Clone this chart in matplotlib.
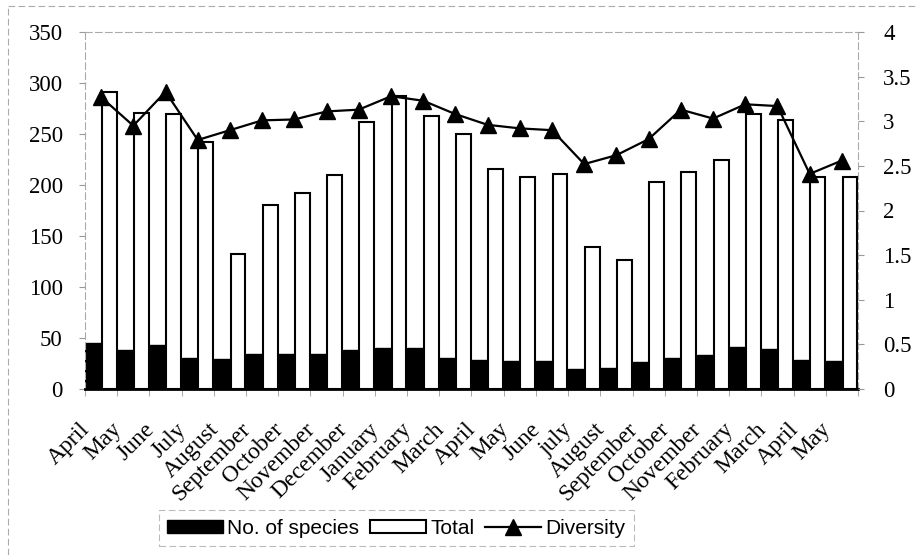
import numpy as np
import matplotlib
matplotlib.use('Agg')
import matplotlib.pyplot as plt
from matplotlib.transforms import ScaledTranslation, blended_transform_factory
from matplotlib.lines import Line2D
from matplotlib.patches import Patch

plt.rcParams['font.family'] = ['Liberation Serif', 'DejaVu Serif']

months = ['April', 'May', 'June', 'July', 'August', 'September', 'October',
          'November', 'December', 'January', 'February', 'March', 'April',
          'May', 'June', 'july', 'August', 'September', 'October', 'November',
          'February', 'March', 'April', 'May']
species = [45, 38, 43, 30, 29, 34, 34, 34, 38, 40, 40, 30,
           28, 27, 27, 20, 21, 26, 30, 33, 41, 39, 28, 27]
total = [291, 271, 270, 242, 132, 180, 192, 210, 262, 287, 268, 250,
         216, 208, 211, 139, 126, 203, 213, 225, 270, 264, 208, 208]
diversity = [3.27, 2.95, 3.33, 2.79, 2.90, 3.01, 3.02, 3.11, 3.13, 3.28, 3.23, 3.08,
             2.96, 2.92, 2.90, 2.52, 2.62, 2.80, 3.13, 3.03, 3.19, 3.17, 2.41, 2.56]

fig = plt.figure(figsize=(9.17, 5.55), dpi=100)
W, H = 917, 555
ax = fig.add_axes([85 / W, 1 - 389 / H, (858 - 85) / W, (389 - 32) / H])
x = np.arange(len(months))

ax.bar(x - 0.24, species, width=0.52, color='black', edgecolor='black', linewidth=1)
ax.bar(x + 0.25, total, width=0.46, color='white', edgecolor='black', linewidth=1.5)
ax.set_xlim(-0.5, len(months) - 0.5)
ax.set_ylim(0, 350)
ax.set_yticks(np.arange(0, 351, 50))
ax.set_xticks([])
ax.set_xticks(np.arange(-0.5, len(months), 1), minor=True)
ax.tick_params(axis='x', which='minor', length=5, color='#999999', labelbottom=False)
ax.tick_params(axis='y', length=4, color='#999999', labelsize=16.5, pad=12)

for s in ['left', 'top', 'right']:
    ax.spines[s].set_color('#aaaaaa')
    ax.spines[s].set_linestyle((0, (6, 3)))
    ax.spines[s].set_linewidth(0.8)
ax.spines['bottom'].set_linewidth(2)

ax2 = ax.twinx()
ax2.plot(x, diversity, color='black', linewidth=1.6, marker='^', markersize=11)
ax2.set_ylim(0, 4)
ax2.set_yticks(np.arange(0, 4.01, 0.5))
ax2.set_yticklabels(['0', '0.5', '1', '1.5', '2', '2.5', '3', '3.5', '4'])
ax2.tick_params(axis='y', length=4, color='#999999', labelsize=16.5, pad=14)
for s in ['left', 'top', 'right', 'bottom']:
    ax2.spines[s].set_visible(False)

# rotated month labels
trans = blended_transform_factory(ax.transData, ax.transAxes) + \
    ScaledTranslation(-22 / 100, -30 / 100, fig.dpi_scale_trans)
for xi, m in zip(x, months):
    ax.text(xi, 0, m, transform=trans, rotation=45, rotation_mode='anchor',
            ha='right', va='top', fontsize=17)

handles = [Patch(facecolor='black', edgecolor='black'),
           Patch(facecolor='white', edgecolor='black', linewidth=1.5),
           Line2D([], [], color='black', linewidth=1.6, marker='^', markersize=11)]
leg = fig.legend(handles, ['No. of species', 'Total', 'Diversity'], ncol=3,
                 loc='center', bbox_to_anchor=(396 / W, 1 - 528 / H),
                 prop={'family': 'Liberation Sans', 'size': 15},
                 handlelength=2.7, handleheight=0.6, handletextpad=0.2,
                 columnspacing=0.5, fancybox=False, borderpad=0.4, borderaxespad=0)
leg.get_frame().set_edgecolor('#aaaaaa')
leg.get_frame().set_linestyle((0, (6, 3)))
leg.get_frame().set_linewidth(0.8)

# faint outer border (top and left)
fig.add_artist(Line2D([8 / W, 1], [1 - 6 / H, 1 - 6 / H], transform=fig.transFigure,
                      color='#aaaaaa', linewidth=0.8, linestyle=(0, (6, 3))))
fig.add_artist(Line2D([8 / W, 8 / W], [0, 1 - 6 / H], transform=fig.transFigure,
                      color='#aaaaaa', linewidth=0.8, linestyle=(0, (6, 3))))

plt.savefig('out.png', dpi=100)
plt.close()
